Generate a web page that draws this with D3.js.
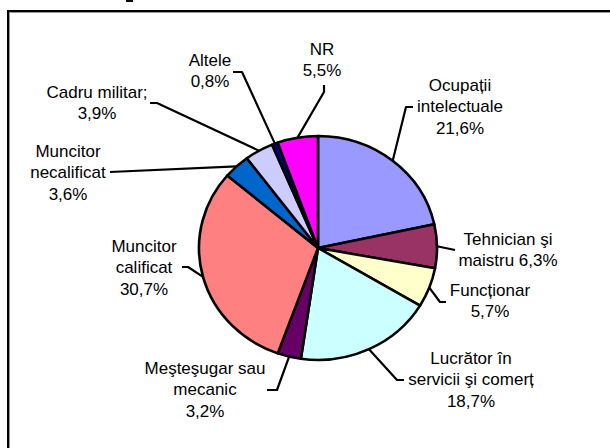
<!DOCTYPE html>
<html>
<head>
<meta charset="utf-8">
<script src="https://cdn.jsdelivr.net/npm/d3@7"></script>
<style>
  html, body { margin: 0; padding: 0; background: #fff; }
  svg { display: block; font-family: "Liberation Sans", Arial, sans-serif; }
</style>
</head>
<body>
<div id="chart"></div>
<script>
// data, clockwise from 12 o'clock
const categories = [
  ['Ocupații', 'intelectuale'],
  ['Tehnician şi', 'maistru'],
  ['Funcționar'],
  ['Lucrător în', 'servicii şi comerț'],
  ['Meşteşugar sau', 'mecanic'],
  ['Muncitor', 'calificat'],
  ['Muncitor', 'necalificat'],
  ['Cadru militar;'],
  ['Altele'],
  ['NR']
];
const values = [21.6, 6.3, 5.7, 18.7, 3.2, 30.7, 3.6, 3.9, 0.8, 5.5];
const colors = ['#9999ff', '#993366', '#ffffcc', '#ccffff', '#660066',
                '#ff8080', '#0066cc', '#ccccff', '#000080', '#ff00ff'];
// value sits on the last name line for this one
const inlineValue = [false, true, false, false, false, false, false, false, false, false];

// label layout: text centre and leader elbow points
const labelPos = [
  { x: 460, y: 85,  elbow: [[413, 107], [406, 107]] },
  { x: 508, y: 239, elbow: [[455, 250]] },
  { x: 490, y: 290, elbow: [[446, 302], [440, 302]] },
  { x: 471, y: 358, elbow: [[404, 380], [397, 380]] },
  { x: 205, y: 368, elbow: [[267, 390], [277, 390]] },
  { x: 144, y: 246, elbow: [[182, 267], [188, 267]] },
  { x: 68,  y: 151, elbow: [[110, 172]] },
  { x: 97,  y: 92,  elbow: [[150, 103], [157, 103]] },
  { x: 210, y: 60,  elbow: [[233, 72], [242, 72]] },
  { x: 322, y: 49,  elbow: [[324, 85], [324, 92]] }
];

const W = 610, H = 448;
const cx = 318, cy = 248, rx = 119, ry = 112;
const lineH = 21.5;

const svg = d3.select('#chart').append('svg')
  .attr('width', W).attr('height', H);

// chart frame (runs off the right and bottom of the picture)
svg.append('rect')
  .attr('x', 8).attr('y', 11)
  .attr('width', W + 20).attr('height', H + 20)
  .attr('fill', 'none').attr('stroke', '#000').attr('stroke-width', 2);
svg.append('rect')
  .attr('x', 9.5).attr('y', 12.5)
  .attr('width', W + 20).attr('height', H + 20)
  .attr('fill', 'none').attr('stroke', '#999').attr('stroke-width', 1);

// bit of cut-off text above the frame
svg.append('rect').attr('x', 126).attr('y', 0).attr('width', 7).attr('height', 2).attr('fill', '#000');

const pie = d3.pie().sort(null).value(d => d)(values);
const arc = d3.arc().innerRadius(0).outerRadius(rx);

const g = svg.append('g')
  .attr('transform', 'translate(' + cx + ',' + cy + ') scale(1,' + (ry / rx) + ')');

g.selectAll('path')
  .data(pie)
  .enter().append('path')
  .attr('d', arc)
  .attr('fill', (d, i) => colors[i])
  .attr('stroke', '#000')
  .attr('stroke-width', 2.6)
  .attr('stroke-linejoin', 'round');

const fmt = v => v.toFixed(1).replace('.', ',') + '%';

// leader lines
pie.forEach((d, i) => {
  const a = (d.startAngle + d.endAngle) / 2;
  const edge = [cx + rx * Math.sin(a), cy - ry * Math.cos(a)];
  const pts = labelPos[i].elbow.concat([edge]);
  svg.append('path')
    .attr('d', d3.line()(pts))
    .attr('fill', 'none')
    .attr('stroke', '#000')
    .attr('stroke-width', 2.2)
    .attr('stroke-linejoin', 'round');
});

// labels
categories.forEach((name, i) => {
  let lines = name.slice();
  if (inlineValue[i]) lines[lines.length - 1] += ' ' + fmt(values[i]);
  else lines.push(fmt(values[i]));
  const t = svg.append('text')
    .attr('x', labelPos[i].x)
    .attr('y', labelPos[i].y)
    .attr('text-anchor', 'middle')
    .attr('font-size', 17)
    .attr('fill', '#000');
  lines.forEach((ln, k) => {
    t.append('tspan')
      .attr('x', labelPos[i].x)
      .attr('y', labelPos[i].y + k * lineH)
      .attr('dy', '0.35em')
      .text(ln);
  });
});
</script>
</body>
</html>
